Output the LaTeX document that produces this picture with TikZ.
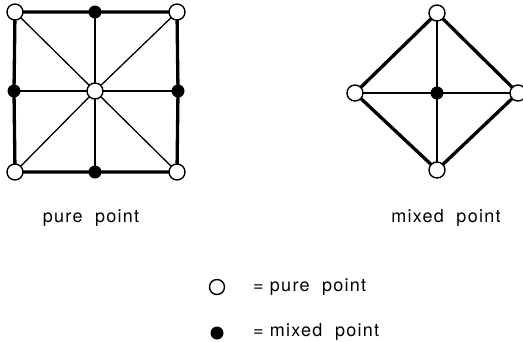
\documentclass[tikz,border=0pt]{standalone}
\usepackage{fontspec}
\setmainfont{TeX Gyre Heros}
\usetikzlibrary{positioning}
\tikzset{
  every picture/.style={x=1pt, y=-1pt, font=\fontsize{18}{20}\selectfont\addfontfeature{LetterSpace=7}},
  purept/.style={circle, draw, fill=white, line width=1.4pt, minimum size=16pt, inner sep=0pt},
  mixedpt/.style={circle, fill=black, minimum size=13pt, inner sep=0pt},
  rim/.style={line width=3.3pt},
  spoke/.style={line width=1.3pt},
  caption/.style={inner sep=0pt},
}
\begin{document}
\begin{tikzpicture}
  \useasboundingbox (0,0) rectangle (523,341);
  % pure point: square
  \coordinate (sc) at (95,91);
  \foreach \n/\x/\y in {tl/15/12, tr/177/12, bl/15/172, br/177/172}
    \coordinate (s\n) at (\x,\y);
  \foreach \n/\x/\y in {t/95/12, l/14/91, r/178/91, b/95/172}
    \coordinate (s\n) at (\x,\y);
  \draw[rim] (stl) -- (st) -- (str) -- (sr) -- (sbr) -- (sb) -- (sbl) -- (sl) -- cycle;
  \foreach \n in {tl,t,tr,r,br,b,bl,l}
    \draw[spoke] (sc) -- (s\n);
  \foreach \n in {tl,tr,bl,br} \node[purept] at (s\n) {};
  \foreach \n in {t,l,r,b} \node[mixedpt] at (s\n) {};
  \node[purept] at (sc) {};
  \node[caption] (spure) at (91,218) {pure\ \ point};
  % mixed point: diamond
  \coordinate (dc) at (437,93);
  \foreach \n/\x/\y in {t/437/13, l/355/93, r/518/93, b/437/170}
    \coordinate (d\n) at (\x,\y);
  \draw[rim] (dt) -- (dr) -- (db) -- (dl) -- cycle;
  \foreach \n in {t,r,b,l}
    \draw[spoke] (dc) -- (d\n);
  \foreach \n in {t,r,b,l} \node[purept] at (d\n) {};
  \node[mixedpt] at (dc) {};
  \node[caption] (dmixed) at (446,218) {mixed\ \ point};
  % legend
  \node[purept, minimum size=15pt] (kpure) at (217,287) {};
  \node[mixedpt] (kmixed) at (217,333) {};
  \node[caption, anchor=west] at (253,287) {=\ pure\ \ point};
  \node[caption, anchor=west] at (253,332) {=\ mixed\ \ point};
\end{tikzpicture}
\end{document}
